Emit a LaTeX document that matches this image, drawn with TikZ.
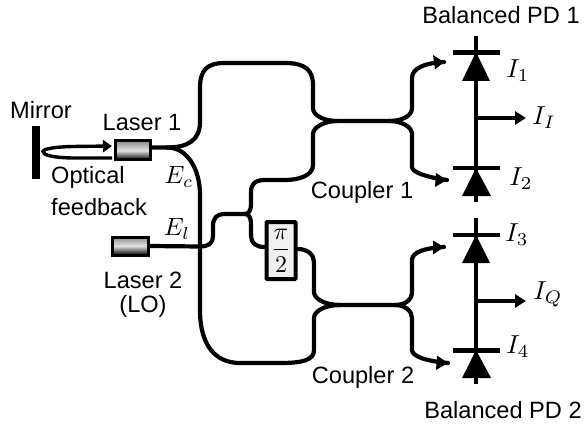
\documentclass[tikz,border=0pt]{standalone}
\usepackage{fontspec}
\setmainfont{Liberation Sans}
\usetikzlibrary{arrows.meta}
\tikzset{
 fiber/.style={line width=4.2pt,line cap=round,line join=round},
 wire/.style={line width=4.2pt},
 txt/.style={font=\fontsize{23.6}{26}\selectfont,inner sep=0pt,align=center},
 mthe/.style={font=\normalsize,inner sep=0pt,scale=2.5},
 mthi/.style={font=\normalsize,inner sep=0pt,scale=2.6},
 laserbox/.style={draw=black,line width=3pt,inner sep=0pt,top color=black!45,bottom color=black,middle color=black!12,shading angle=0},
 tri/.style={fill=black,draw=none}
}
\begin{document}
\begin{tikzpicture}[x=1pt,y=-1pt]
\useasboundingbox (0,0) rectangle (585,430);
\fill[white] (0,0) rectangle (585,430);
% mirror
\node[fill=black,minimum width=7.5pt,minimum height=53pt,inner sep=0pt] (mirror) at (36,152.5) {};
% lasers
\node[laserbox,minimum width=35pt,minimum height=19pt] (L1) at (133,150.5) {};
\node[laserbox,minimum width=36pt,minimum height=18pt] (L2) at (130.5,246) {};
% phase
\node[draw=black,fill=black!6,line width=4pt,rounded corners=0.8pt,minimum width=29pt,minimum height=57pt,inner sep=0pt] (phase) at (281,250.5) {};
\node[inner sep=0pt,font=\normalsize,scale=2.4] (phasetxt) at (281,250.5) {$\displaystyle\frac{\pi}{2}$};
% junctions
\coordinate (a) at (167,147.5);
\coordinate (c1l) at (337,121);
\coordinate (c1r) at (389,121);
\coordinate (c2l) at (340,305);
\coordinate (c2r) at (395,305);
\coordinate (sp) at (245,214);
\coordinate (t1) at (444,62);
\coordinate (t2) at (447,180);
\coordinate (t3) at (444,247);
\coordinate (t4) at (448,363);
\coordinate (y1) at (0,147.5);
\coordinate (y2) at (0,247);
\coordinate (y3) at (0,249);
% laser 1 outputs
\draw[fiber] (L1.east |- y1) -- (a) .. controls (188,147.5) and (200,140) .. (200,122) -- (200,88)
  .. controls (200,70) and (207,63) .. (225,63) -- (285,63) .. controls (305,63) and (313,70) .. (313,85) -- (313,108)
  .. controls (313,116) and (325,121) .. (c1l) -- (c1r);
\draw[fiber] (a) .. controls (188,147.5) and (200,170) .. (200,195) -- (200,310)
  .. controls (200,345) and (215,363) .. (240,363) -- (280,363) .. controls (303,363) and (314,360) .. (314,350) -- (314,318)
  .. controls (314,311) and (325,305) .. (c2l) -- (c2r);
% coupler 1
\draw[fiber] (c1r) .. controls (402,121) and (412,116) .. (412,108) -- (412,78) .. controls (412,68) and (425,63) .. (t1);
\draw[fiber] (c1l) .. controls (325,121) and (313,127) .. (313,134) -- (313,165) .. controls (313,175) and (300,180) .. (285,180) -- (265,180)
  .. controls (255,180) and (251,184) .. (251,192) -- (251,204) .. controls (251,210) and (249,214) .. (sp);
\draw[fiber] (c1r) .. controls (402,121) and (412,127) .. (412,134) -- (412,167) .. controls (412,172) and (425,177) .. (t2);
% laser 2 and split
\draw[fiber] (L2.east) -- (200,246.5) .. controls (209,246.5) and (213,243) .. (213,236) -- (213,226) .. controls (213,218) and (217,214) .. (224,214) -- (sp);
\draw[fiber] (sp) .. controls (249,214) and (251,218) .. (251,224) -- (251,236) .. controls (251,243) and (256,247) .. (phase.west |- y2);
\draw[fiber] (phase.east |- y3) .. controls (308,249) and (314,255) .. (314,262) -- (314,292) .. controls (314,299) and (325,305) .. (c2l);
% coupler 2
\draw[fiber] (c2r) .. controls (405,305) and (412,300) .. (412,292) -- (412,260) .. controls (412,252) and (425,248) .. (t3);
\draw[fiber] (c2r) .. controls (405,305) and (412,311) .. (412,318) -- (412,350) .. controls (412,356) and (425,361) .. (t4);
% arrowheads on coupler outputs
\fill (t1) -- (433,55) -- (435,69.5) -- cycle;
\fill (t2) -- (436,173) -- (435,187) -- cycle;
\fill (t3) -- (433,240.5) -- (433,254.5) -- cycle;
\fill (t4) -- (437,355.5) -- (436,370) -- cycle;
% feedback
\coordinate (fb1) at (112,146);
\coordinate (fb2) at (112,158);
\draw[line width=3.4pt,-{Triangle[length=9pt,width=12pt]}] (fb2) -- (72,158) .. controls (52,157.5) and (43,155) .. (43,151.5) .. controls (43,149) and (54,147) .. (72,146.5) -- (fb1);
% PD 1
\coordinate (p1a) at (476,36); \coordinate (p1b) at (476,202);
\coordinate (p1m) at (476,118); \coordinate (p1o) at (526,118);
\draw[wire] (p1a) -- (p1b);
\draw[wire] (453,52.5) -- (500,52.5);
\draw[wire] (453,168) -- (500,168);
\fill[tri] (476,52) -- (490,81) -- (462,81) -- cycle;
\fill[tri] (476,168) -- (491,196) -- (462,196) -- cycle;
\draw[line width=3.4pt,-{Triangle[length=11pt,width=13pt]}] (p1m) -- (p1o);
% PD 2
\coordinate (p2a) at (476,218); \coordinate (p2b) at (476,384);
\coordinate (p2m) at (476,301); \coordinate (p2o) at (526,301);
\draw[wire] (p2a) -- (p2b);
\draw[wire] (453,235) -- (500,235);
\draw[wire] (453,350.5) -- (500,350.5);
\fill[tri] (476,235) -- (490,263) -- (462,263) -- cycle;
\fill[tri] (476,350) -- (491,378) -- (462,378) -- cycle;
\draw[line width=3.4pt,-{Triangle[length=11pt,width=13pt]}] (p2m) -- (p2o);
% text
\node[txt] (tm) at (41,110) {Mirror};
\node[txt] (tl1) at (142,122) {Laser 1};
\node[txt,anchor=west] (to) at (51,177) {Optical};
\node[txt,anchor=west] (tf) at (51,207) {feedback};
\node[txt] (tl2) at (143,280) {Laser 2};
\node[txt] (tlo) at (143,306) {(LO)};
\node[txt] (tc1) at (362,192) {Coupler 1};
\node[txt] (tc2) at (363,377) {Coupler 2};
\node[txt] (tb1) at (501,15) {Balanced PD 1};
\node[txt] (tb2) at (503,410) {Balanced PD 2};
\node[mthe] (ec) at (179,177) {$E_c$};
\node[mthe] (el) at (177,229) {$E_l$};
\node[mthi] (i1) at (518,71) {$I_1$};
\node[mthi] (i2) at (521,179) {$I_2$};
\node[mthi] (ii) at (544,118) {$I_I$};
\node[mthi] (i3) at (517,235) {$I_3$};
\node[mthi] (i4) at (518,347) {$I_4$};
\node[mthi] (iq) at (548,294) {$I_Q$};
\end{tikzpicture}
\end{document}
